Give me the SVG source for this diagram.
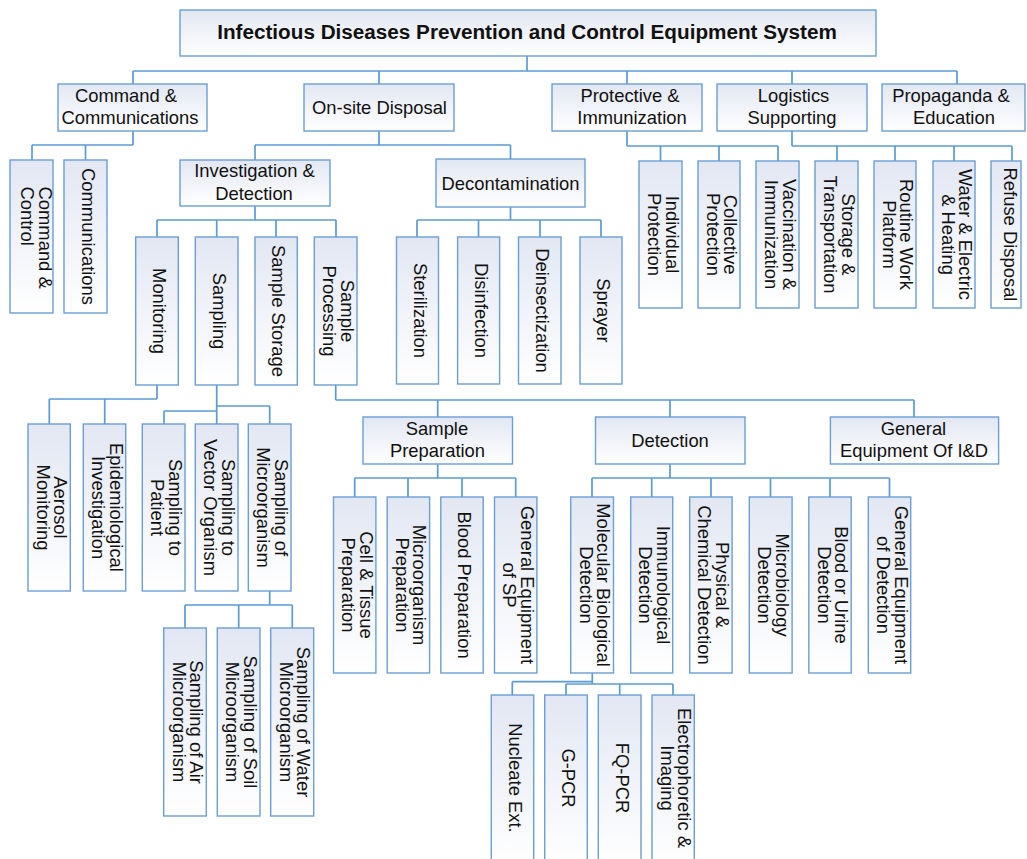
<svg xmlns="http://www.w3.org/2000/svg" width="1027" height="859" viewBox="0 0 1027 859">
<style>
.b{fill:url(#g);stroke:#6a9fd6;stroke-width:1.4}
.t{font-family:"Liberation Sans",Arial,Helvetica,sans-serif;font-size:18.4px;fill:#111;text-anchor:middle}
.s{text-anchor:start}
.r{font-size:20.7px;font-weight:bold}
.c path{stroke:#5b9bd5;stroke-width:1.7;fill:none}
</style>
<defs>
<linearGradient id="g" x1="0" y1="0" x2="0" y2="1">
<stop offset="0" stop-color="#e2e7f3"/>
<stop offset="1" stop-color="#ffffff"/>
</linearGradient>
</defs>
<rect width="1027" height="859" fill="#fff"/>
<g class="c" id="connectors">
<path d="M527,56V71M133,71H957M133,71V84M379,71V84M627,71V84M792,71V84M957,71V84"/>
<path d="M133,131V145M32,145H133M32,145V160M85.5,145V160"/>
<path d="M379,131V145M255,145H510.5M255,145V160M510.5,145V159"/>
<path d="M627,131V146M627,146H778M660.5,146V161M719,146V161M778,146V161"/>
<path d="M792,131V146M792,146H1012M837,146V161M895,146V161M954,146V161M1012,146V161"/>
<path d="M255,206V220M157,220H336M157,220V237M216.7,220V237M276,220V237M336,220V237"/>
<path d="M510.5,207V220M417,220H601M417,220V237M478.5,220V237M540,220V237M601,220V237"/>
<path d="M157,385V399M49.3,399H157M49.3,399V424M104.7,399V424"/>
<path d="M216.7,385V424M216.7,406H269.7M269.7,406V424M164,411H216.7M164,411V424"/>
<path d="M269.7,591V605M185,605H292.3M185,605V628M238.7,605V628M292.3,605V628"/>
<path d="M335.7,385V400M335.7,400H914M437.7,400V417M670,400V417M914,400V417"/>
<path d="M437.7,464V478M354.7,478H515.7M354.7,478V497M408,478V497M462,478V497M515.7,478V497"/>
<path d="M670,464V478M592,478H889.5M592,478V497M651.7,478V497M711,478V497M770.5,478V497M830,478V497M889.5,478V497"/>
<path d="M592.3,673V684M512.3,681.7H592.3M512.3,681.7V695M566,684H673M566,684V695M619.7,684V695M673,684V695"/>
</g>
<g id="root"><rect class="b" x="180" y="10" width="696" height="46"/><text class="t r" x="527" y="39">Infectious Diseases Prevention and Control Equipment System</text></g>
<g id="cmd-comm"><rect class="b" x="58" y="84" width="149" height="47"/><text class="t"><tspan x="126" y="101.7">Command &amp;</tspan><tspan x="130" y="124">Communications</tspan></text></g>
<g id="onsite"><rect class="b" x="304" y="84" width="150" height="47"/><text class="t" x="379.5" y="114.3">On-site Disposal</text></g>
<g id="protective"><rect class="b" x="552" y="84" width="150" height="47"/><text class="t"><tspan x="630" y="101.7">Protective &amp;</tspan><tspan x="632" y="124">Immunization</tspan></text></g>
<g id="logistics"><rect class="b" x="717" y="84" width="150" height="47"/><text class="t"><tspan x="793.5" y="101.7">Logistics</tspan><tspan x="792" y="124">Supporting</tspan></text></g>
<g id="propaganda"><rect class="b" x="882" y="84" width="143" height="47"/><text class="t"><tspan x="951" y="101.7">Propaganda &amp;</tspan><tspan x="954" y="124">Education</tspan></text></g>
<g id="cmd-control"><rect class="b" x="10" y="160" width="43" height="153"/><text class="t s" transform="translate(31.5,186.5) rotate(90)"><tspan x="0" y="-7">Command &amp;</tspan><tspan x="0" y="10.5">Control</tspan></text></g>
<g id="communications"><rect class="b" x="64" y="160" width="43" height="153"/><text class="t" transform="translate(85.5,236.5) rotate(90)" y="4">Communications</text></g>
<g id="inv-det"><rect class="b" x="180" y="160" width="150" height="46"/><text class="t"><tspan x="254.5" y="177">Investigation &amp;</tspan><tspan x="254" y="200">Detection</tspan></text></g>
<g id="decon"><rect class="b" x="436" y="159" width="149" height="48"/><text class="t" x="510.5" y="190">Decontamination</text></g>
<g id="monitoring"><rect class="b" x="135.7" y="237" width="42.6" height="148"/><text class="t" transform="translate(157,311) rotate(90)" y="4">Monitoring</text></g>
<g id="sampling"><rect class="b" x="195.3" y="237" width="42.7" height="148"/><text class="t" transform="translate(216.7,311) rotate(90)" y="4">Sampling</text></g>
<g id="sample-storage"><rect class="b" x="255" y="237" width="42.3" height="148"/><text class="t" transform="translate(276,311) rotate(90)" y="4">Sample Storage</text></g>
<g id="sample-processing"><rect class="b" x="314.3" y="237" width="42.7" height="148"/><text class="t" transform="translate(335.7,311) rotate(90)"><tspan x="0" y="-5">Sample</tspan><tspan x="0" y="12.5">Processing</tspan></text></g>
<g id="sterilization"><rect class="b" x="396.5" y="237" width="42" height="147"/><text class="t" transform="translate(417.5,310.5) rotate(90)" y="4">Sterilization</text></g>
<g id="disinfection"><rect class="b" x="457.6" y="237" width="42" height="147"/><text class="t" transform="translate(478.6,310.5) rotate(90)" y="4">Disinfection</text></g>
<g id="deinsectization"><rect class="b" x="518.5" y="237" width="42.5" height="147"/><text class="t" transform="translate(540,310.5) rotate(90)" y="4">Deinsectization</text></g>
<g id="sprayer"><rect class="b" x="580" y="237" width="42" height="147"/><text class="t" transform="translate(601,310.5) rotate(90)" y="4">Sprayer</text></g>
<g id="individual"><rect class="b" x="639" y="161" width="43" height="147"/><text class="t" transform="translate(660.5,234.5) rotate(90)"><tspan x="0" y="-5">Individual</tspan><tspan x="0" y="12.5">Protection</tspan></text></g>
<g id="collective"><rect class="b" x="698" y="161" width="42" height="147"/><text class="t" transform="translate(719,234.5) rotate(90)"><tspan x="0" y="-5">Collective</tspan><tspan x="0" y="12.5">Protection</tspan></text></g>
<g id="vaccination"><rect class="b" x="756" y="161" width="43" height="147"/><text class="t" transform="translate(777.5,234.5) rotate(90)"><tspan x="0" y="-5">Vaccination &amp;</tspan><tspan x="0" y="12.5">Immunization</tspan></text></g>
<g id="storage"><rect class="b" x="815" y="161" width="43" height="147"/><text class="t" transform="translate(836.5,234.5) rotate(90)"><tspan x="0" y="-5">Storage &amp;</tspan><tspan x="0" y="12.5">Transportation</tspan></text></g>
<g id="routine"><rect class="b" x="874" y="161" width="42" height="147"/><text class="t" transform="translate(895,234.5) rotate(90)"><tspan x="0" y="-5">Routine Work</tspan><tspan x="0" y="12.5">Platform</tspan></text></g>
<g id="water"><rect class="b" x="933" y="161" width="42" height="147"/><text class="t" transform="translate(954,234.5) rotate(90)"><tspan x="0" y="-5">Water &amp; Electric</tspan><tspan x="0" y="12.5">&amp; Heating</tspan></text></g>
<g id="refuse"><rect class="b" x="991" y="161" width="30" height="147"/><text class="t" transform="translate(1006.5,234.5) rotate(90)" y="3">Refuse Disposal</text></g>
<g id="aerosol"><rect class="b" x="28" y="424" width="42.3" height="167"/><text class="t" transform="translate(49.2,507.5) rotate(90)"><tspan x="0" y="-5">Aerosol</tspan><tspan x="0" y="12.5">Monitoring</tspan></text></g>
<g id="epidemiological"><rect class="b" x="83.3" y="424" width="42.4" height="167"/><text class="t" transform="translate(104.5,507.5) rotate(90)"><tspan x="0" y="-5">Epidemiological</tspan><tspan x="0" y="12.5">Investigation</tspan></text></g>
<g id="samp-patient"><rect class="b" x="142.3" y="424" width="42.7" height="167"/><text class="t" transform="translate(163.7,507.5) rotate(90)"><tspan x="0" y="-5">Sampling to</tspan><tspan x="0" y="12.5">Patient</tspan></text></g>
<g id="samp-vector"><rect class="b" x="195.3" y="424" width="42.7" height="167"/><text class="t" transform="translate(216.7,507.5) rotate(90)"><tspan x="0" y="-5">Sampling to</tspan><tspan x="0" y="12.5">Vector Organism</tspan></text></g>
<g id="samp-micro"><rect class="b" x="248.3" y="424" width="42.7" height="167"/><text class="t" transform="translate(269.7,507.5) rotate(90)"><tspan x="0" y="-5">Sampling of</tspan><tspan x="0" y="12.5">Microorganism</tspan></text></g>
<g id="samp-air"><rect class="b" x="163.7" y="628" width="42.6" height="188"/><text class="t" transform="translate(185,722) rotate(90)"><tspan x="0" y="-5">Sampling of Air</tspan><tspan x="0" y="12.5">Microorganism</tspan></text></g>
<g id="samp-soil"><rect class="b" x="217.3" y="628" width="42.7" height="188"/><text class="t" transform="translate(238.7,722) rotate(90)"><tspan x="0" y="-5">Sampling of Soil</tspan><tspan x="0" y="12.5">Microorganism</tspan></text></g>
<g id="samp-water"><rect class="b" x="270.7" y="628" width="43" height="188"/><text class="t" transform="translate(292.2,722) rotate(90)"><tspan x="0" y="-5">Sampling of Water</tspan><tspan x="0" y="12.5">Microorganism</tspan></text></g>
<g id="sample-prep"><rect class="b" x="363" y="417" width="149.5" height="47"/><text class="t"><tspan x="437" y="435">Sample</tspan><tspan x="437.5" y="456.7">Preparation</tspan></text></g>
<g id="detection"><rect class="b" x="595.5" y="417" width="149.5" height="47"/><text class="t" x="670" y="447">Detection</text></g>
<g id="general-id"><rect class="b" x="830.4" y="417" width="168.2" height="47"/><text class="t"><tspan x="913.5" y="435">General</tspan><tspan x="914" y="456.7">Equipment Of I&amp;D</tspan></text></g>
<g id="cell-tissue"><rect class="b" x="333.5" y="497" width="42.4" height="176"/><text class="t" transform="translate(354.7,585) rotate(90)"><tspan x="0" y="-5">Cell &amp; Tissue</tspan><tspan x="0" y="12.5">Preparation</tspan></text></g>
<g id="micro-prep"><rect class="b" x="387.2" y="497" width="42.4" height="176"/><text class="t" transform="translate(408.4,585) rotate(90)"><tspan x="0" y="-5">Microorganism</tspan><tspan x="0" y="12.5">Preparation</tspan></text></g>
<g id="blood-prep"><rect class="b" x="440.8" y="497" width="42.4" height="176"/><text class="t" transform="translate(462,585) rotate(90)" y="4">Blood Preparation</text></g>
<g id="gen-sp"><rect class="b" x="494.5" y="497" width="42.4" height="176"/><text class="t" transform="translate(515.7,585) rotate(90)"><tspan x="0" y="-5">General Equipment</tspan><tspan x="0" y="12.5">of SP</tspan></text></g>
<g id="molecular"><rect class="b" x="570.7" y="497" width="42.8" height="176"/><text class="t" transform="translate(592.1,585) rotate(90)"><tspan x="0" y="-5">Molecular Biological</tspan><tspan x="0" y="12.5">Detection</tspan></text></g>
<g id="immuno"><rect class="b" x="630.7" y="497" width="42" height="176"/><text class="t" transform="translate(651.7,585) rotate(90)"><tspan x="0" y="-5">Immunological</tspan><tspan x="0" y="12.5">Detection</tspan></text></g>
<g id="physical"><rect class="b" x="689.7" y="497" width="42.4" height="176"/><text class="t" transform="translate(710.9,585) rotate(90)"><tspan x="0" y="-5">Physical &amp;</tspan><tspan x="0" y="12.5">Chemical Detection</tspan></text></g>
<g id="microbio"><rect class="b" x="749.3" y="497" width="42.8" height="176"/><text class="t" transform="translate(770.7,585) rotate(90)"><tspan x="0" y="-5">Microbiology</tspan><tspan x="0" y="12.5">Detection</tspan></text></g>
<g id="blood-urine"><rect class="b" x="808.8" y="497" width="42.4" height="176"/><text class="t" transform="translate(830,585) rotate(90)"><tspan x="0" y="-5">Blood or Urine</tspan><tspan x="0" y="12.5">Detection</tspan></text></g>
<g id="gen-det"><rect class="b" x="868.3" y="497" width="42.4" height="176"/><text class="t" transform="translate(889.5,585) rotate(90)"><tspan x="0" y="-5">General Equipment</tspan><tspan x="0" y="12.5">of Detection</tspan></text></g>
<g id="nucleate"><rect class="b" x="491.3" y="695" width="42.4" height="170"/><text class="t" transform="translate(512.5,778) rotate(90)" y="4">Nucleate Ext.</text></g>
<g id="gpcr"><rect class="b" x="544.7" y="695" width="42.6" height="170"/><text class="t" transform="translate(566,778) rotate(90)" y="4">G-PCR</text></g>
<g id="fqpcr"><rect class="b" x="598.3" y="695" width="42.7" height="170"/><text class="t" transform="translate(619.7,778) rotate(90)" y="4">FQ-PCR</text></g>
<g id="electro"><rect class="b" x="652" y="695" width="42.3" height="170"/><text class="t" transform="translate(673.2,778) rotate(90)"><tspan x="0" y="-5">Electrophoretic &amp;</tspan><tspan x="0" y="12.5">Imaging</tspan></text></g>
</svg>
